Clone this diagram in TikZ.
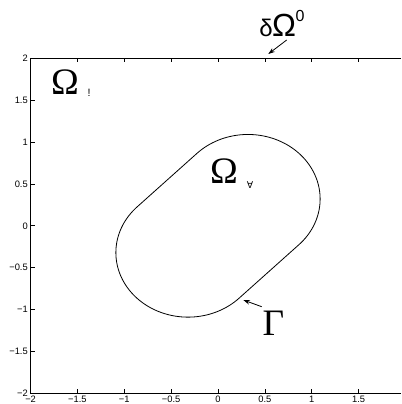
\documentclass[tikz,border=0pt]{standalone}
\usepackage{fontspec}
\setmainfont{Liberation Serif}
\newfontfamily\axfont{Liberation Sans}
\newfontfamily\symfont{DejaVu Sans}
\usetikzlibrary{arrows.meta}
\begin{document}
\begin{tikzpicture}[x=0.75pt,y=0.75pt,
  axisline/.style={line width=0.7pt},
  tickmark/.style={line width=0.5pt},
  ticklabel/.style={font=\axfont\fontsize{7}{8}\selectfont, inner sep=0pt},
  bigsym/.style={font=\fontsize{28}{30}\selectfont, inner sep=0pt, anchor=base},
  tinysym/.style={font=\symfont\fontsize{7}{8}\selectfont, inner sep=0pt, anchor=base},
  tinytxt/.style={font=\axfont\fontsize{8}{9}\selectfont, inner sep=0pt, anchor=base},
  pointer/.style={line width=0.6pt, -{Stealth[length=5pt,width=3.5pt]}},
  boundary/.style={line width=0.6pt}]
\useasboundingbox (0,0) rectangle (401,404);
% axes box (right side clipped)
\coordinate (tl) at (30.6,345.7);
\coordinate (bl) at (30.6,10.7);
\coordinate (tr) at (401,345.7);
\coordinate (br) at (401,10.7);
\draw[axisline] (tr) -- (tl) -- (bl) -- (br);
% x ticks and labels
\foreach \k/\lab in {0/{−2},1/{−1.5},2/{−1},3/{−0.5},4/0,5/0.5,6/1,7/1.5} {
  \draw[tickmark] ({30.6+46.85*\k},345.7) -- ++(0,-4);
  \draw[tickmark] ({30.6+46.85*\k},10.7) -- ++(0,4);
  \node[ticklabel] (xl\k) at ({30.6+46.85*\k},5) {\lab};
}
% y ticks and labels
\foreach \k/\lab in {0/2,1/1.5,2/1,3/0.5,4/0,5/{−0.5},6/{−1},7/{−1.5},8/{−2}} {
  \draw[tickmark] (30.6,{345.7-41.875*\k}) -- ++(4,0);
  \node[ticklabel, anchor=east] (yl\k) at (28,{345.7-41.875*\k}) {\lab};
}
% boundary curve Gamma (in data coordinates)
\begin{scope}[shift={(163.5pt,133.65pt)}, x=70.275pt, y=62.85pt]
\draw[boundary] plot[domain=-45:135, samples=73, smooth] ({0.32+0.77*cos(\x)},{0.32+0.77*sin(\x)})
  -- plot[domain=135:315, samples=73, smooth] ({-0.32+0.77*cos(\x)},{-0.32+0.77*sin(\x)}) -- cycle;
\end{scope}
% labels
\node[bigsym] (om1) at (65,309) {Ω};
\node[tinytxt] (sub1) at (89,307) {!};
\node[bigsym] (om2) at (224,220.7) {Ω};
\node[tinysym] (sub2) at (250,215.7) {∀};
\node[bigsym] (gam) at (273.3,69) {Γ};
\node[font=\axfont\fontsize{18}{20}\selectfont, inner sep=0pt, anchor=base] (dlt) at (266,367.3) {δ};
\node[font=\axfont\fontsize{24}{26}\selectfont, inner sep=0pt, anchor=base] (om0) at (284.2,367.3) {Ω};
\node[font=\axfont\fontsize{12}{13}\selectfont, inner sep=0pt, anchor=base] (sup0) at (300,382.3) {0};
% pointers
\coordinate (d0) at (286.7,364);
\coordinate (d1) at (268.3,350);
\draw[pointer] (d0) -- (d1);
\coordinate (g0) at (261.7,97.3);
\coordinate (g1) at (243.3,104);
\draw[pointer] (g0) -- (g1);
\end{tikzpicture}
\end{document}
